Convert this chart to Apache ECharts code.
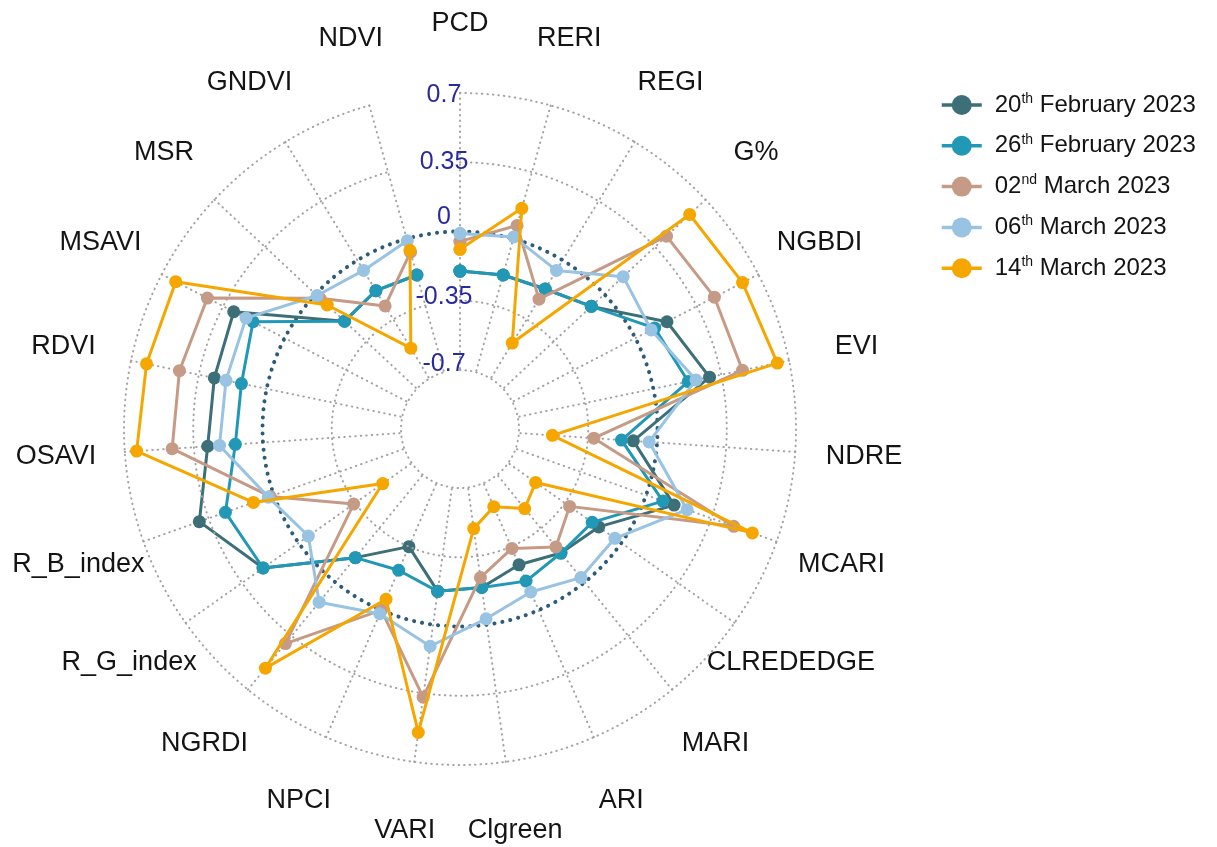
<!DOCTYPE html>
<html>
<head>
<meta charset="utf-8">
<title>Vegetation index radar</title>
<script src="https://cdn.jsdelivr.net/npm/echarts@6/dist/echarts.min.js"></script>
<style>
  html, body { margin: 0; padding: 0; background: #ffffff; }
  #chart { width: 1217px; height: 847px; }
</style>
</head>
<body>
<div id="chart"></div>
<script>
// Spectral indices, clockwise from the top
const categories = ['PCD', 'RERI', 'REGI', 'G%', 'NGBDI', 'EVI', 'NDRE', 'MCARI', 'CLREDEDGE', 'MARI', 'ARI',
  'Clgreen', 'VARI', 'NPCI', 'NGRDI', 'R_G_index', 'R_B_index', 'OSAVI', 'RDVI', 'MSAVI', 'MSR', 'GNDVI', 'NDVI'];

// Survey dates (legend entries)
const dates = ['20th February 2023', '26th February 2023', '02nd March 2023', '06th March 2023', '14th March 2023'];

// Index values per survey date, same order as categories
const feb20 = [-0.20, -0.19, -0.17, -0.09, 0.18, 0.29, -0.12, 0.15, -0.14, -0.19, -0.25, -0.19,
  -0.17, -0.35, -0.16, 0.22, 0.40, 0.28, 0.27, 0.29, -0.20, -0.18, -0.19];
const feb26 = [-0.20, -0.19, -0.17, -0.09, 0.11, 0.18, -0.18, 0.09, -0.18, -0.19, -0.16, -0.19,
  -0.17, -0.22, -0.16, 0.22, 0.26, 0.14, 0.13, 0.18, -0.20, -0.18, -0.19];
const mar02 = [-0.05, 0.07, -0.23, 0.43, 0.45, 0.46, -0.32, 0.47, -0.32, -0.23, -0.34, -0.24,
  0.37, 0.00, 0.40, -0.34, 0.02, 0.46, 0.45, 0.44, -0.03, -0.27, -0.07];
const mar06 = [-0.01, 0.01, -0.06, 0.13, 0.09, 0.22, -0.04, 0.22, -0.04, -0.03, -0.10, -0.03,
  0.11, 0.02, 0.13, -0.06, 0.03, 0.22, 0.21, 0.22, -0.01, -0.06, -0.01];
const mar14 = [-0.09, 0.16, -0.49, 0.59, 0.61, 0.64, -0.53, 0.57, -0.53, -0.48, -0.57, -0.49,
  0.55, -0.06, 0.56, -0.52, 0.11, 0.64, 0.62, 0.62, -0.08, -0.52, -0.06];

// Radial tick values
const radiusTicks = [-0.7, -0.35, 0, 0.35, 0.7];

const seriesValues = [feb20, feb26, mar02, mar06, mar14];
const colors = ['#3d6f79', '#2198b6', '#c69b86', '#98c3e2', '#f5a700'];

// Layout of the polar plot (pixels)
const CENTER = [460, 429];
const R_INNER = 59;
const R_OUTER = 336;
const R_LABEL = 405;
const tickMin = radiusTicks[0];
const tickMax = radiusTicks[radiusTicks.length - 1];
const tickStep = radiusTicks[1] - radiusTicks[0];
// radius of the zero reference ring
const R_ZERO = R_INNER + (0 - tickMin) / (tickMax - tickMin) * (R_OUTER - R_INNER);
// vertical nudge of each radial tick label (px, positive = up), inner to outer
const tickLabelLift = [6, 3.75, 14.5, 0.25, -2];

const FONT = 'Liberation Sans, Arial, sans-serif';
const gridLine = { color: '#a3a3a3', width: 2, type: [0.5, 5], cap: 'round' };

const tickRich = {};
tickLabelLift.forEach((lift, i) => {
  tickRich['t' + i] = {
    color: '#2a2a9e', fontSize: 25, fontFamily: FONT,
    padding: lift >= 0 ? [0, 0, lift * 2, 0] : [-lift * 2, 0, 0, 0]
  };
});

const chart = echarts.init(document.getElementById('chart'), null, { renderer: 'canvas' });

const lineSeries = seriesValues.map((vals, k) => ({
  type: 'line',
  name: dates[k],
  coordinateSystem: 'polar',
  polarIndex: 0,
  // close the loop by returning to the first index
  data: vals.map((v, i) => [v, categories[i]]).concat([[vals[0], categories[0]]]),
  symbol: 'circle',
  symbolSize: 13,
  clip: false,
  silent: true,
  z: 3 + k,
  lineStyle: { width: 3, color: colors[k] },
  itemStyle: { color: colors[k] }
}));

const labelSeries = {
  type: 'scatter',
  coordinateSystem: 'polar',
  polarIndex: 2,
  data: categories.map(c => [1, c]),
  symbolSize: 0,
  silent: true,
  itemStyle: { opacity: 1 },
  label: {
    show: true,
    position: 'inside',
    formatter: p => categories[p.dataIndex],
    color: '#141414',
    opacity: 1,
    fontSize: 27,
    fontFamily: FONT
  }
};

chart.setOption({
  animation: false,
  backgroundColor: '#ffffff',
  textStyle: { fontFamily: FONT },
  polar: [
    { center: CENTER, radius: [R_INNER, R_OUTER] },
    { center: CENTER, radius: R_ZERO },
    { center: CENTER, radius: R_LABEL }
  ],
  angleAxis: [
    {
      polarIndex: 0, type: 'category', data: categories, boundaryGap: false,
      startAngle: 90, clockwise: true, z: 1,
      axisLine: { show: false }, axisTick: { show: false }, axisLabel: { show: false },
      splitLine: { show: true, lineStyle: gridLine }
    },
    {
      polarIndex: 1, type: 'value', min: 0, max: 360, startAngle: 90, z: 2,
      axisLine: { show: true, lineStyle: { color: '#2d5b7a', width: 4, type: [0.1, 8], cap: 'round' } },
      axisTick: { show: false }, axisLabel: { show: false }, splitLine: { show: false }
    },
    {
      polarIndex: 2, type: 'category', data: categories, boundaryGap: false,
      startAngle: 90, clockwise: true, show: false
    }
  ],
  radiusAxis: [
    {
      polarIndex: 0, type: 'value', min: tickMin, max: tickMax, interval: tickStep, z: 4,
      axisLine: { show: false }, axisTick: { show: false },
      axisLabel: {
        show: true, showMinLabel: true, showMaxLabel: true,
        margin: 16, align: 'center', verticalAlign: 'middle',
        color: '#2a2a9e', fontSize: 25, fontFamily: FONT,
        formatter: (v, idx) => '{t' + idx + '|' + String(+(+v).toFixed(2)) + '}',
        rich: tickRich
      },
      splitLine: {
        show: true,
        lineStyle: Object.assign({}, gridLine, {
          color: radiusTicks.map(t => (t === 0 ? 'rgba(0,0,0,0)' : gridLine.color))
        })
      }
    },
    { polarIndex: 1, type: 'value', show: false },
    { polarIndex: 2, type: 'value', min: 0, max: 1, show: false }
  ],
  legend: {
    data: dates,
    orient: 'vertical',
    left: 935,
    top: 87,
    itemWidth: 40,
    itemHeight: 25,
    itemGap: 15.8,
    lineStyle: { width: 3.5 },
    formatter: name => {
      const m = name.match(/^(\d+)(st|nd|rd|th)(.*)$/);
      return m ? '{g| }{n|' + m[1] + '}{s|' + m[2] + '}{n|' + m[3] + '}' : name;
    },
    textStyle: {
      color: '#141414', fontSize: 24, fontFamily: FONT,
      rich: {
        g: { width: 8, fontSize: 24, lineHeight: 26 },
        n: { fontSize: 24, lineHeight: 26, fontFamily: FONT, color: '#141414' },
        s: { fontSize: 14, lineHeight: 15, verticalAlign: 'top', fontFamily: FONT, color: '#141414' }
      }
    }
  },
  series: lineSeries.concat([labelSeries])
});
</script>
</body>
</html>
